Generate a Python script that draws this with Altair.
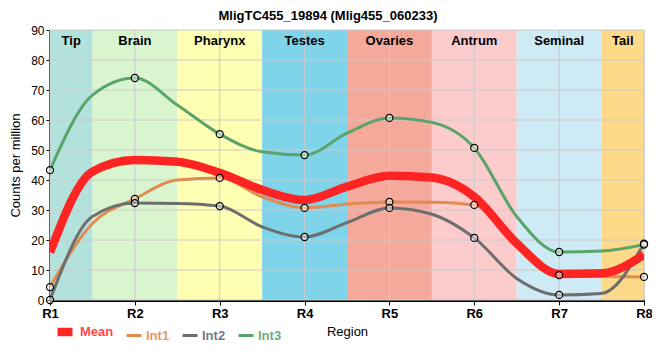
import altair as alt
import pandas as pd

regions = ["R1", "R2", "R3", "R4", "R5", "R6", "R7", "R8"]
mean = [15.9, 46.7, 42.4, 33.3, 41.4, 34.4, 8.7, 15.1]
int1 = [4.3, 33.7, 40.7, 30.7, 32.7, 31.7, 8.3, 7.7]
int2 = [0.0, 32.3, 31.3, 21.0, 30.7, 20.7, 1.7, 18.8]
int3 = [43.3, 74.0, 55.3, 48.3, 60.7, 50.7, 16.0, 18.5]

# curve values at the region boundaries (R1.5 ... R7.5)
mean_mid = [42.8, 46.1, 36.7, 37.8, 40.8, 18.9, 8.9]
int1_mid = [25.5, 40.0, 34.4, 32.0, 32.6, 19.0, 7.8]
int2_mid = [27.8, 32.2, 24.4, 25.8, 28.6, 7.2, 2.2]
int3_mid = [68.3, 65.0, 49.4, 55.6, 59.2, 27.8, 16.3]

tissues = ["Tip", "Brain", "Pharynx", "Testes", "Ovaries", "Antrum", "Seminal", "Tail"]
tissue_colors = ["#b3e2dd", "#d9f5cf", "#ffffb3", "#80d4ea", "#f4a99b", "#fccbcc", "#ceeaf4", "#fdd98a"]

series_names = ["Mean", "Int1", "Int2", "Int3"]
series_colors = ["#ff2424", "#e08c50", "#6e6e6e", "#5aa46a"]
label_colors = ["#ff4a4a", "#e8985e", "#777788", "#6cae7c"]
series_widths = [8.5, 3, 3, 3]

y_ticks = [0, 10, 20, 30, 40, 50, 60, 70, 80, 90]

title = "MligTC455_19894 (Mlig455_060233)"

n = len(regions)
point_rows, curve_rows = [], []
for name, vals, mids in zip(series_names, [mean, int1, int2, int3],
                            [mean_mid, int1_mid, int2_mid, int3_mid]):
    for i, v in enumerate(vals):
        point_rows.append({"series": name, "pos": i + 1, "value": v})
        curve_rows.append({"series": name, "pos": i + 1, "value": v})
    for i, v in enumerate(mids):
        curve_rows.append({"series": name, "pos": i + 1.5, "value": v})
points_df = pd.DataFrame(point_rows)
curve_df = pd.DataFrame(curve_rows).sort_values(["series", "pos"])

band_rows = []
for i, t in enumerate(tissues):
    pos = i + 1
    s, e = max(1, pos - 0.5), min(n, pos + 0.5)
    band_rows.append({"tissue": t, "start": s, "end": e, "mid": (s + e) / 2, "y0": 0, "y1": 90})
bands = pd.DataFrame(band_rows)

ygrid = pd.DataFrame({"v": y_ticks})
xgrid = pd.DataFrame({"p": list(range(1, n + 1))})
title_df = pd.DataFrame({"t": [title]})

FONT = "Liberation Sans"

xscale = alt.Scale(domain=[1, n], nice=False, zero=False)
yscale = alt.Scale(domain=[0, 90], nice=False)

xaxis = alt.Axis(values=list(range(1, n + 1)), labelExpr="'R' + datum.value", grid=False,
                 labelFontWeight="bold", labelFontSize=13, labelColor="black",
                 domainColor="black", domainWidth=3, tickColor="black", tickSize=5,
                 title="Region", titleFontWeight="normal", titleFontSize=13, titleColor="black",
                 titlePadding=5, labelPadding=2, labelFlush=False, labelOverlap=False)
yaxis = alt.Axis(values=y_ticks, tickCount=10, grid=False, labelFontSize=12, labelColor="black",
                 domainColor="black", domainWidth=3, tickColor="black", tickSize=4,
                 labelOverlap=False, labelPadding=2, labelFlush=False,
                 title="Counts per million", titleFontWeight="normal", titleFontSize=13,
                 titleColor="black", titlePadding=8)

band_layer = alt.Chart(bands).mark_rect().encode(
    x=alt.X("start:Q", scale=xscale, axis=xaxis),
    x2="end:Q",
    y=alt.Y("y0:Q", scale=yscale, axis=yaxis),
    y2="y1:Q",
    fill=alt.Fill("tissue:N", scale=alt.Scale(domain=tissues, range=tissue_colors), legend=None),
)

band_text = alt.Chart(bands).mark_text(fontWeight="bold", fontSize=13, font=FONT,
                                       color="black", baseline="middle").encode(
    x=alt.X("mid:Q", scale=xscale, axis=xaxis),
    y=alt.value(11),
    text="tissue:N",
)

title_text = alt.Chart(title_df).mark_text(fontWeight="bold", fontSize=13, font=FONT,
                                           color="black", baseline="middle", align="center",
                                           clip=False).encode(
    x=alt.value(278),
    y=alt.value(-14),
    text="t:N",
)

hgrid = alt.Chart(ygrid).mark_rule(color="#cacaca", strokeWidth=1).encode(
    y=alt.Y("v:Q", scale=yscale, axis=yaxis)
)
vgrid = alt.Chart(xgrid).mark_rule(color="#cacaca", strokeWidth=1).encode(
    x=alt.X("p:Q", scale=xscale, axis=xaxis)
)

label_expr = " : ".join(
    [f"datum.label == '{s}' ? '{c}'" for s, c in zip(series_names[:-1], label_colors[:-1])]
) + f" : '{label_colors[-1]}'"

lines = alt.Chart(curve_df).mark_line(interpolate="monotone", clip=True, strokeCap="butt").encode(
    x=alt.X("pos:Q", scale=xscale, axis=xaxis),
    y=alt.Y("value:Q", scale=yscale, axis=yaxis),
    color=alt.Color("series:N", scale=alt.Scale(domain=series_names, range=series_colors),
                    sort=series_names,
                    legend=alt.Legend(title=None, orient="none", direction="horizontal",
                                      legendX=3, legendY=290, symbolType="stroke",
                                      symbolSize=225, labelFontSize=13, labelFont=FONT,
                                      labelFontWeight="bold", columnPadding=6, labelOffset=3,
                                      labelColor={"expr": label_expr})),
    strokeWidth=alt.StrokeWidth("series:N",
                                scale=alt.Scale(type="ordinal", domain=series_names, range=series_widths),
                                sort=series_names),
    order=alt.Order("pos:Q"),
    detail="series:N",
)

points = alt.Chart(points_df[points_df.series != "Mean"]).mark_point(
    shape="circle", size=50, filled=True, fill="white", fillOpacity=0.45,
    stroke="black", strokeWidth=1.2, clip=False
).encode(
    x=alt.X("pos:Q", scale=xscale, axis=xaxis),
    y=alt.Y("value:Q", scale=yscale, axis=yaxis),
)

chart = alt.layer(band_layer, hgrid, vgrid, band_text, lines, points, title_text).properties(
    width=594, height=270,
    autosize=alt.AutoSizeParams(type="none"),
    padding={"left": 42, "top": 22, "right": 8, "bottom": 44},
).configure_view(stroke="black", strokeWidth=1).configure(font=FONT)

chart.save("out.html", embed_options={"renderer": "svg", "actions": False})
